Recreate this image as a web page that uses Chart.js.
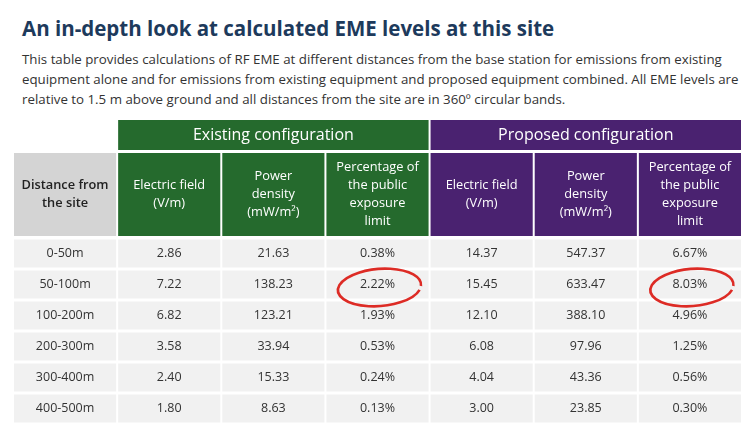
<!DOCTYPE html>
<html>
<head>
<meta charset="utf-8">
<script src="https://cdn.jsdelivr.net/npm/chart.js@4"></script>
<style>
  body { margin: 0; width: 754px; height: 424px; overflow: hidden; background: #fff; font-family: "Open Sans", sans-serif; position: relative; }
  h1 { position: absolute; left: 22px; top: 14px; margin: 0; font-size: 20.5px; font-weight: 700; color: #1d3a5c; }
  p { position: absolute; left: 22px; top: 49px; width: 728px; margin: 0; font-size: 13.3px; line-height: 20px; color: #333; }
  #wrap { position: absolute; left: 0; top: 118px; width: 754px; height: 306px; }
</style>
</head>
<body>
<h1>An in-depth look at calculated EME levels at this site</h1>
<p>This table provides calculations of RF EME at different distances from the base station for emissions from existing equipment alone and for emissions from existing equipment and proposed equipment combined. All EME levels are relative to 1.5 m above ground and all distances from the site are in 360º circular bands.</p>
<div id="wrap"><canvas id="table"></canvas></div>
<script>
const groups = ['Existing configuration', 'Proposed configuration'];
const columns = [
  ['Distance from', 'the site'],
  ['Electric field', '(V/m)'],
  ['Power', 'density', '(mW/m²)'],
  ['Percentage of', 'the public', 'exposure', 'limit'],
  ['Electric field', '(V/m)'],
  ['Power', 'density', '(mW/m²)'],
  ['Percentage of', 'the public', 'exposure', 'limit']
];
const distances = ['0-50m', '50-100m', '100-200m', '200-300m', '300-400m', '400-500m'];
const existingField = ['2.86', '7.22', '6.82', '3.58', '2.40', '1.80'];
const existingDensity = ['21.63', '138.23', '123.21', '33.94', '15.33', '8.63'];
const existingPercent = ['0.38%', '2.22%', '1.93%', '0.53%', '0.24%', '0.13%'];
const proposedField = ['14.37', '15.45', '12.10', '6.08', '4.04', '3.00'];
const proposedDensity = ['547.37', '633.47', '388.10', '97.96', '43.36', '23.85'];
const proposedPercent = ['6.67%', '8.03%', '4.96%', '1.25%', '0.56%', '0.30%'];
// cells circled in red: [column, row]
const circled = [[3, 1], [6, 1]];

const rows = distances.map((d, i) => [d, existingField[i], existingDensity[i], existingPercent[i],
  proposedField[i], proposedDensity[i], proposedPercent[i]]);

const GREEN = '#256a2d';
const PURPLE = '#4a2270';

const tablePlugin = {
  id: 'tablePlugin',
  afterDraw(chart) {
    const ctx = chart.ctx;
    const x = chart.scales.x;
    const y = chart.scales.y;
    const cw = x.width / columns.length;
    const rh = y.height / distances.length;
    const gap = 2;
    ctx.save();
    ctx.textAlign = 'center';
    ctx.textBaseline = 'middle';

    // group headers
    [[1, 3, GREEN], [4, 6, PURPLE]].forEach((g, gi) => {
      const left = x.getPixelForValue(g[0]) - cw / 2 + gap / 2;
      const right = x.getPixelForValue(g[1]) + cw / 2 - gap / 2;
      ctx.fillStyle = g[2];
      ctx.fillRect(left, 2, right - left, 30);
      ctx.fillStyle = '#fff';
      ctx.font = '500 16px "Open Sans"';
      ctx.fillText(groups[gi], (left + right) / 2, 17);
    });

    // column headers
    columns.forEach((lines, i) => {
      const cx = x.getPixelForValue(i);
      ctx.fillStyle = i === 0 ? '#d4d4d4' : (i <= 3 ? GREEN : PURPLE);
      ctx.fillRect(cx - cw / 2 + gap / 2, 35, cw - gap, 83);
      ctx.fillStyle = i === 0 ? '#222' : '#fff';
      ctx.font = (i === 0 ? '600 ' : '500 ') + '12.8px "Open Sans"';
      const lh = 18;
      lines.forEach((t, k) => {
        ctx.fillText(t, cx, 76.5 + (k - (lines.length - 1) / 2) * lh);
      });
    });

    // data rows
    rows.forEach((r, ri) => {
      const cy = y.getPixelForValue(ri);
      r.forEach((v, ci) => {
        const cx = x.getPixelForValue(ci);
        ctx.fillStyle = '#f1f1f1';
        ctx.fillRect(cx - cw / 2 + gap / 2, cy - rh / 2 + 1.5, cw - gap, rh - 3);
        ctx.fillStyle = '#333';
        ctx.font = '12.5px "Open Sans"';
        ctx.fillText(v, cx, cy);
      });
    });

    // red hand-drawn circles
    ctx.strokeStyle = '#dd2b25';
    ctx.lineWidth = 2.6;
    circled.forEach(([ci, ri]) => {
      const cx = x.getPixelForValue(ci);
      const cy = y.getPixelForValue(ri);
      ctx.beginPath();
      ctx.ellipse(cx + 2, cy + 3, cw * 0.4, rh * 0.6, -0.08, 0.3, Math.PI * 2 + 0.1);
      ctx.stroke();
    });
    ctx.restore();
  }
};

new Chart(document.getElementById('table'), {
  type: 'bar',
  data: { labels: columns.map((c, i) => i), datasets: [] },
  options: {
    responsive: true,
    maintainAspectRatio: false,
    animation: false,
    layout: { padding: { left: 13, right: 12, top: 120, bottom: 0 } },
    plugins: { legend: { display: false }, tooltip: { enabled: false } },
    scales: {
      x: { type: 'category', display: false, offset: true },
      y: { type: 'category', labels: distances, display: false, offset: true }
    }
  },
  plugins: [tablePlugin]
});
</script>
</body>
</html>
